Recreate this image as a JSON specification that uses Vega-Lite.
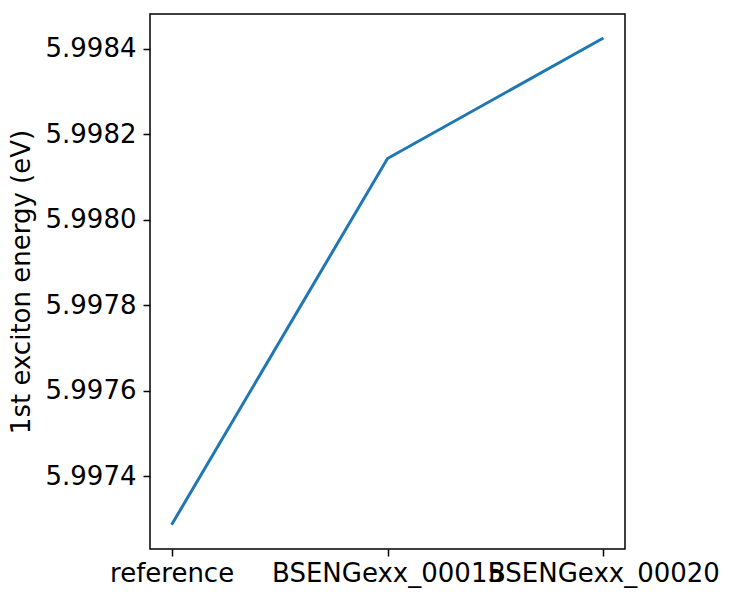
{
  "$schema": "https://vega.github.io/schema/vega-lite/v6.json",
  "width": 475,
  "height": 535,
  "autosize": "none",
  "padding": {"left": 150, "top": 14, "right": 110, "bottom": 51},
  "background": "white",
  "config": {
    "font": "DejaVu Sans",
    "view": {"stroke": "black", "strokeWidth": 1.5},
    "axis": {
      "domain": false,
      "grid": false,
      "ticks": true,
      "tickColor": "black",
      "tickSize": 7,
      "tickWidth": 1.5,
      "labelColor": "black",
      "labelFontSize": 26,
      "labelFont": "DejaVu Sans",
      "labelLimit": 1000,
      "titleColor": "black",
      "titleFont": "DejaVu Sans",
      "titleFontSize": 26,
      "titleFontWeight": "normal"
    }
  },
  "data": {
    "values": [
      {"run": "reference", "energy": 5.9972866},
      {"run": "BSENGexx_00015", "energy": 5.998143},
      {"run": "BSENGexx_00020", "energy": 5.998425}
    ]
  },
  "mark": {"type": "line", "color": "#1f77b4", "strokeWidth": 3},
  "encoding": {
    "x": {
      "field": "run",
      "type": "ordinal",
      "sort": ["reference", "BSENGexx_00015", "BSENGexx_00020"],
      "scale": {"type": "point", "padding": 0.1},
      "axis": {
        "title": null,
        "labelAngle": 0,
        "labelOverlap": false,
        "labelPadding": 4
      }
    },
    "y": {
      "field": "energy",
      "type": "quantitative",
      "scale": {"domain": [5.99723, 5.998481], "zero": false, "nice": false},
      "axis": {
        "title": "1st exciton energy (eV)",
        "values": [5.9974, 5.9976, 5.9978, 5.998, 5.9982, 5.9984],
        "format": ".4f",
        "labelPadding": 7,
        "titlePadding": 11
      }
    }
  }
}
